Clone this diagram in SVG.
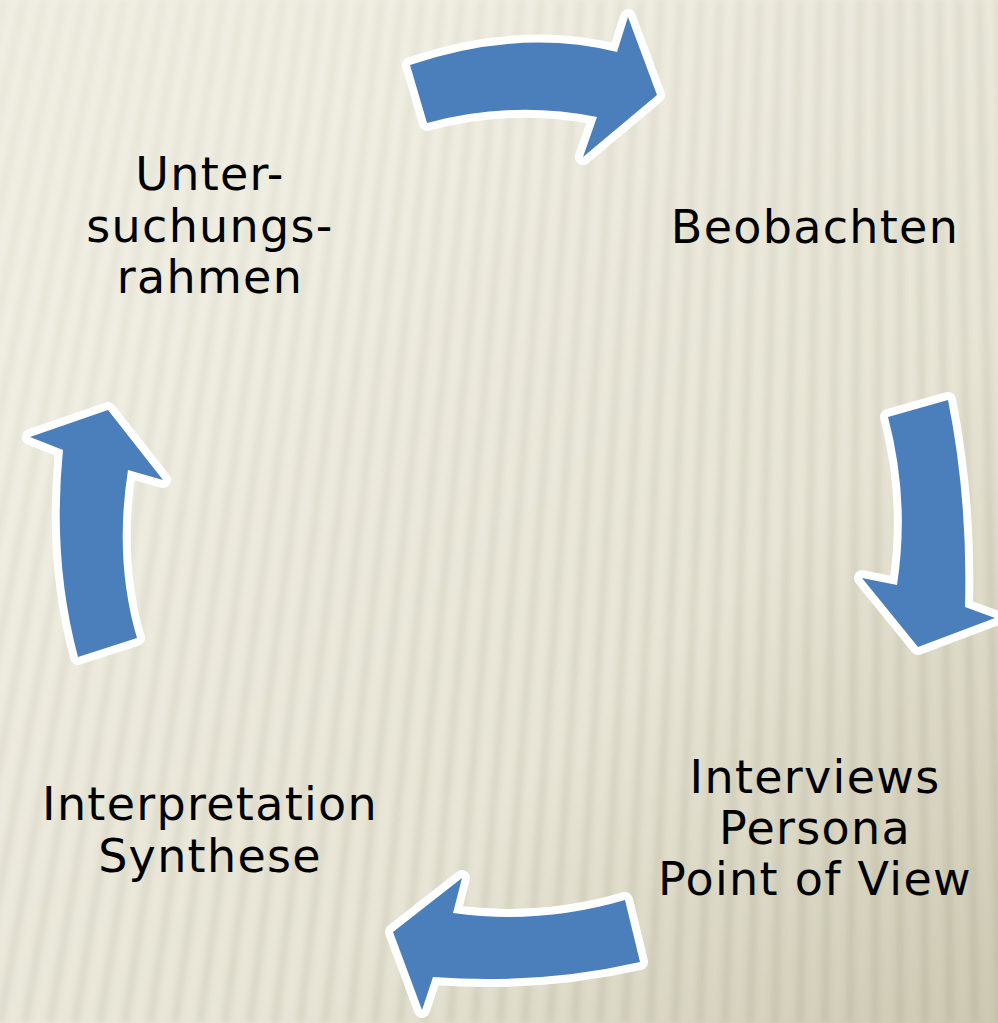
<svg xmlns="http://www.w3.org/2000/svg" width="998" height="1023" viewBox="0 0 998 1023">
  <style>
    .label { font-family: "DejaVu Sans", "Verdana", sans-serif; font-size: 46px; letter-spacing: 1.3px; fill: #000; text-anchor: middle; }
    .arrow { fill: #4A7FBB; stroke: #FFFFFF; stroke-width: 16; stroke-linejoin: round; paint-order: stroke; }
  </style>
  <defs>
    <linearGradient id="bgGrad" x1="0.25" y1="0.2" x2="1" y2="1">
      <stop offset="0" stop-color="#F0EEE2"/>
      <stop offset="0.55" stop-color="#E8E5D6"/>
      <stop offset="1" stop-color="#CDC9B2"/>
    </linearGradient>
    <linearGradient id="stripeFade" x1="0.1" y1="0" x2="0.9" y2="1">
      <stop offset="0" stop-color="#fff" stop-opacity="0.3"/>
      <stop offset="0.5" stop-color="#fff" stop-opacity="0.65"/>
      <stop offset="1" stop-color="#fff" stop-opacity="1"/>
    </linearGradient>
    <mask id="stripeMask">
      <rect x="0" y="0" width="998" height="1023" fill="url(#stripeFade)"/>
    </mask>
    <filter id="soft" x="-5%" y="-5%" width="110%" height="110%">
      <feGaussianBlur stdDeviation="3"/>
    </filter>
  </defs>

  <!-- corrugated backdrop -->
  <rect x="0" y="0" width="998" height="1023" fill="url(#bgGrad)"/>
  <g id="stripes" mask="url(#stripeMask)" filter="url(#soft)">
    <path fill="none" stroke="#9E9A80" stroke-opacity="0.28" stroke-width="7"
      d="M-225,1023L4,0M-200,1023L24,0M-175,1023L44,0M-150,1023L64,0M-125,1023L84,0M-100,1023L104,0M-75,1023L124,0M-50,1023L143,0M-25,1023L163,0M0,1023L183,0M25,1023L203,0M50,1023L223,0M75,1023L243,0M100,1023L263,0M125,1023L283,0M150,1023L303,0M175,1023L322,0M200,1023L342,0M225,1023L362,0M250,1023L382,0M275,1023L402,0M300,1023L422,0M325,1023L442,0M350,1023L462,0M375,1023L482,0M400,1023L502,0M425,1023L521,0M450,1023L541,0M475,1023L561,0M500,1023L581,0M525,1023L601,0M550,1023L621,0M575,1023L641,0M600,1023L661,0M625,1023L681,0M650,1023L701,0M675,1023L720,0M700,1023L740,0M725,1023L760,0M750,1023L780,0M775,1023L800,0M800,1023L820,0M825,1023L840,0M850,1023L860,0M875,1023L880,0M900,1023L900,0M925,1023L919,0M950,1023L939,0M975,1023L959,0M1000,1023L979,0M1025,1023L999,0"/>
  </g>

  <!-- curved cycle arrows -->
  <g id="connectors">
    <path id="arrow-top" class="arrow" d="M410,65 Q520,28 617,52 L628,17 L657,95 L583,157 L597,117 Q512,100 427,123 Z"/>
    <path id="arrow-right" class="arrow" d="M888,417 L948,400 Q968,500 965,607 L995,618 L918,647 L862,578 L897,585 Q910,500 888,417 Z"/>
    <path id="arrow-bottom" class="arrow" d="M625,900 Q540,925 453,913 L462,878 L393,932 L422,1010 L433,977 Q540,985 640,962 Z"/>
    <path id="arrow-left" class="arrow" d="M78,657 Q52,560 63,450 L30,437 L108,410 L163,480 L128,470 Q114,560 137,638 Z"/>
  </g>

  <!-- stage labels -->
  <g id="node-untersuchungsrahmen">
    <text class="label" x="210" y="190">Unter-</text>
    <text class="label" x="210" y="242">suchungs-</text>
    <text class="label" x="210" y="293">rahmen</text>
  </g>
  <g id="node-beobachten">
    <text class="label" x="815" y="243">Beobachten</text>
  </g>
  <g id="node-interviews">
    <text class="label" x="815" y="793">Interviews</text>
    <text class="label" x="815" y="844">Persona</text>
    <text class="label" x="815" y="895">Point of View</text>
  </g>
  <g id="node-interpretation">
    <text class="label" x="210" y="820">Interpretation</text>
    <text class="label" x="210" y="872">Synthese</text>
  </g>
</svg>
